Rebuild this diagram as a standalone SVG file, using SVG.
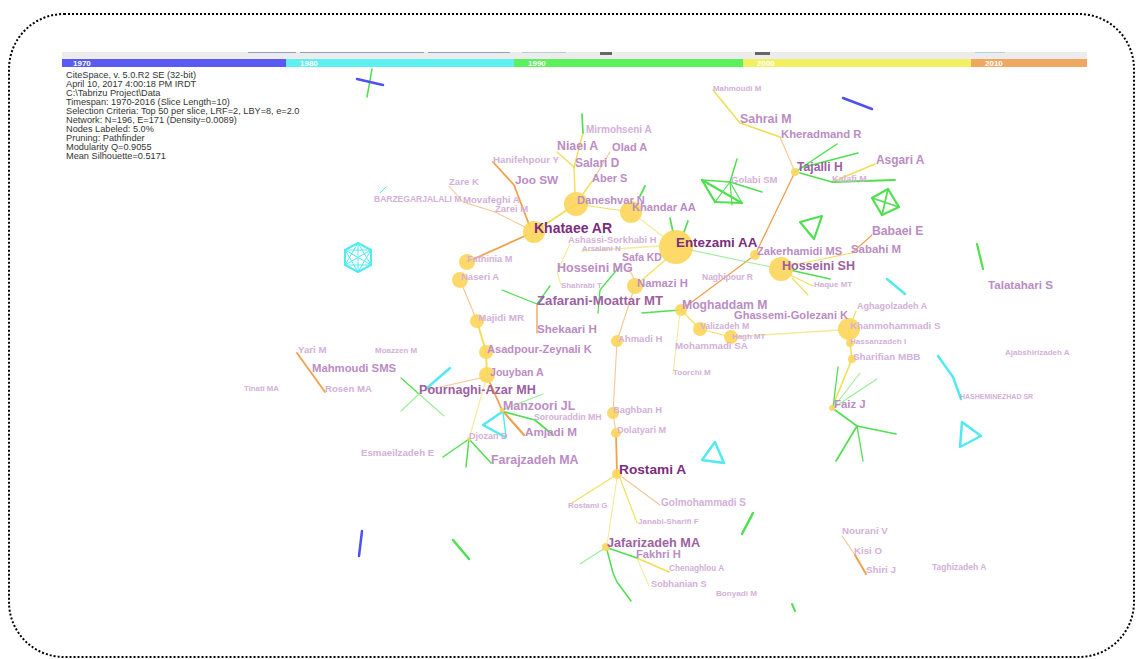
<svg xmlns="http://www.w3.org/2000/svg" width="1136" height="659" viewBox="0 0 1136 659">
<style>
.t{font-family:"Liberation Sans",Arial,sans-serif;font-weight:bold}
.h{font-family:"Liberation Sans",Arial,sans-serif;font-size:9.2px;fill:#333}
.yr{font-family:"Liberation Sans",Arial,sans-serif;font-size:8px;font-weight:bold;fill:#fff}
.c1{fill:#7b2d7e}.c2{fill:#9d5fa3}.c3{fill:#bb8cc4}.c4{fill:#d3b0d8}
.n{fill:#fdd55a;fill-opacity:0.9}
#edges line,#edges polyline,#edges polygon{fill:none;stroke-linecap:round;stroke-linejoin:round}
.o{stroke:#f2a04c;stroke-width:1.8}
.ol{stroke:#f7c596;stroke-width:1.1}
.y{stroke:#f0df55;stroke-width:1.4}
.yl{stroke:#f4ea9a;stroke-width:1.1}
.g{stroke:#50df50;stroke-width:1.7}
.gl{stroke:#98ee98;stroke-width:1.1}
.c{stroke:#52e9f0;stroke-width:2.5}
.ct{stroke:#52e9f0;stroke-width:1}
.b{stroke:#5050ee;stroke-width:2.5}
</style>
<rect x="9" y="14" width="1125" height="643" rx="55" ry="55" fill="#fff" stroke="#000" stroke-width="2" stroke-dasharray="2 2"/>
<g id="timeline">
<rect x="62" y="52" width="1025" height="7" fill="#ececec"/>
<rect x="62" y="59" width="224" height="8" fill="#5a5af0"/>
<rect x="286" y="59" width="228" height="8" fill="#5ef0f0"/>
<rect x="514" y="59" width="229" height="8" fill="#5cf05c"/>
<rect x="743" y="59" width="228" height="8" fill="#f0f060"/>
<rect x="971" y="59" width="116" height="8" fill="#f0a860"/>
<line x1="248" y1="52.5" x2="296" y2="52.5" stroke="#8fa4bb" stroke-width="1"/>
<line x1="300" y1="52.5" x2="424" y2="52.5" stroke="#8fa4bb" stroke-width="1"/>
<line x1="428" y1="52.5" x2="510" y2="52.5" stroke="#8fa4bb" stroke-width="1"/>
<line x1="522" y1="52.5" x2="566" y2="52.5" stroke="#b5cde0" stroke-width="1"/>
<rect x="600" y="52" width="12" height="3" fill="#666"/>
<rect x="755" y="52" width="15" height="3" fill="#666"/>
<line x1="975" y1="52.5" x2="1005" y2="52.5" stroke="#b5cde0" stroke-width="1"/>
<text class="yr" x="73" y="66">1970</text>
<text class="yr" x="300" y="66">1980</text>
<text class="yr" x="528" y="66">1990</text>
<text class="yr" x="757" y="66">2000</text>
<text class="yr" x="985" y="66">2010</text>
</g>
<g id="info">
<text class="h" x="66" y="77.5">CiteSpace, v. 5.0.R2 SE (32-bit)</text>
<text class="h" x="66" y="86.5">April 10, 2017 4:00:18 PM IRDT</text>
<text class="h" x="66" y="95.5">C:\Tabrizu Project\Data</text>
<text class="h" x="66" y="104.5">Timespan: 1970-2016 (Slice Length=10)</text>
<text class="h" x="66" y="113.5">Selection Criteria: Top 50 per slice, LRF=2, LBY=8, e=2.0</text>
<text class="h" x="66" y="122.5">Network: N=196, E=171 (Density=0.0089)</text>
<text class="h" x="66" y="131.5">Nodes Labeled: 5.0%</text>
<text class="h" x="66" y="140.5">Pruning: Pathfinder</text>
<text class="h" x="66" y="149.5">Modularity Q=0.9055</text>
<text class="h" x="66" y="158.5">Mean Silhouette=0.5171</text>
</g>
<g id="edges">
<polyline class="o" points="530,227 514,185 493,162"/>
<polyline class="ol" points="449,186 463,202 495,212 527,228"/>
<line class="o" x1="527" y1="235" x2="467" y2="262"/>
<line class="ol" x1="593" y1="180" x2="610" y2="152"/>
<line class="ol" x1="628" y1="268" x2="635" y2="280"/>
<line class="ol" x1="633" y1="292" x2="617" y2="341"/>
<polyline class="ol" points="617,341 613,413 616,433"/>
<line class="o" x1="616" y1="433" x2="617" y2="474"/>
<polyline class="o" style="stroke-width:1.3" points="681,310 700,296 755,255 795,172"/>
<line class="ol" x1="795" y1="172" x2="780" y2="137"/>
<line class="o" style="stroke-width:1.1" x1="852" y1="253" x2="872" y2="235"/>
<line class="o" style="stroke-width:1.3" x1="537" y1="304" x2="537" y2="333"/>
<line class="ol" x1="460" y1="280" x2="477" y2="321"/>
<line class="ol" x1="485" y1="377" x2="427" y2="390"/>
<line class="o" x1="490" y1="383" x2="502" y2="410"/>
<line class="o" style="stroke-width:2.2" x1="502" y1="410" x2="524" y2="435"/>
<line class="o" x1="297" y1="353" x2="325" y2="392"/>
<line class="ol" x1="622" y1="477" x2="660" y2="505"/>
<line class="ol" x1="842" y1="536" x2="855" y2="555"/>
<line class="o" style="stroke-width:2" x1="855" y1="555" x2="866" y2="574"/>

<line class="y" style="stroke-width:1.8" x1="534" y1="232" x2="576" y2="204"/>
<line class="y" x1="575" y1="192" x2="574" y2="167"/>
<line class="y" x1="574" y1="167" x2="557" y2="152"/>
<line class="y" x1="574" y1="167" x2="583" y2="133"/>
<line class="y" x1="583" y1="194" x2="593" y2="180"/>
<line class="y" style="stroke-width:1.2" x1="576" y1="204" x2="631" y2="212"/>
<line class="yl" x1="631" y1="212" x2="665" y2="238"/>
<line class="yl" style="stroke-width:1.3" x1="660" y1="246" x2="582" y2="251"/>
<polyline class="yl" points="570,244 557,272 561,285"/>
<line class="y" style="stroke-width:1.1" x1="670" y1="256" x2="635" y2="286"/>
<polyline class="y" style="stroke-width:1.6" points="780,137 740,123 713,90"/>
<line class="y" style="stroke-width:1.6" x1="832" y1="182" x2="875" y2="164"/>
<line class="y" style="stroke-width:1.1" x1="793" y1="265" x2="852" y2="253"/>
<line class="y" style="stroke-width:1.1" x1="790" y1="275" x2="813" y2="286"/>
<line class="y" style="stroke-width:1.1" x1="792" y1="278" x2="808" y2="295"/>
<line class="y" style="stroke-width:1.1" x1="681" y1="310" x2="700" y2="329"/>
<line class="yl" x1="680" y1="312" x2="673" y2="374"/>
<line class="y" style="stroke-width:1.1" x1="700" y1="329" x2="731" y2="337"/>
<line class="yl" style="stroke-width:1.3" x1="731" y1="337" x2="840" y2="330"/>
<line class="y" style="stroke-width:1.1" x1="849" y1="329" x2="856" y2="311"/>
<polyline class="y" style="stroke-width:1.6" points="849,329 850,343 852,359 832,408"/>
<polyline class="y" style="stroke-width:1.9" points="477,321 486,352 487,375"/>
<line class="yl" x1="485" y1="383" x2="469" y2="439"/>
<line class="y" style="stroke-width:1.1" x1="613" y1="477" x2="572" y2="503"/>
<line class="y" style="stroke-width:1.1" x1="620" y1="478" x2="637" y2="523"/>
<line class="yl" x1="617" y1="478" x2="607" y2="545"/>
<line class="y" style="stroke-width:1.6" x1="637" y1="558" x2="669" y2="572"/>
<line class="yl" x1="637" y1="558" x2="649" y2="586"/>

<line class="g" x1="583" y1="133" x2="582" y2="114"/>
<line class="g" x1="640" y1="196" x2="645" y2="186"/>
<line class="g" x1="670" y1="218" x2="673" y2="232"/>
<line class="g" x1="688" y1="221" x2="684" y2="232"/>
<line class="gl" x1="676" y1="247" x2="781" y2="269"/>
<line class="g" x1="790" y1="270" x2="830" y2="279"/>
<polyline class="g" style="stroke-width:1.3" points="620,266 600,290 598,313"/>
<polyline class="g" style="stroke-width:1.3" points="502,290 537,304 550,286"/>
<line class="g" style="stroke-width:1.5" x1="642" y1="313" x2="680" y2="310"/>
<line class="g" style="stroke-width:1.5" x1="795" y1="172" x2="837" y2="144"/>
<line class="g" style="stroke-width:1.5" x1="800" y1="168" x2="858" y2="153"/>
<polyline class="g" style="stroke-width:1.8" points="800,173 832,182 895,180"/>
<line class="g" style="stroke-width:2.2" x1="702" y1="180" x2="742" y2="203"/>
<line class="g" style="stroke-width:1.3" x1="702" y1="180" x2="730" y2="182"/>
<line class="g" style="stroke-width:2.2" x1="702" y1="180" x2="715" y2="202"/>
<line class="g" style="stroke-width:2.2" x1="715" y1="202" x2="742" y2="203"/>
<line class="g" style="stroke-width:1.2" x1="730" y1="182" x2="742" y2="203"/>
<line class="g" style="stroke-width:1.2" x1="730" y1="182" x2="715" y2="202"/>
<line class="g" style="stroke-width:1.5" x1="737" y1="159" x2="730" y2="182"/>
<line class="g" style="stroke-width:1.2" x1="730" y1="182" x2="732" y2="205"/>
<line class="g" style="stroke-width:1.5" x1="730" y1="182" x2="762" y2="192"/>
<polygon class="g" style="stroke-width:2.2" points="800,222 822,216 814,239"/>
<polygon class="g" style="stroke-width:2.2" points="872,198 888,189 899,207 882,215"/>
<line class="g" style="stroke-width:1.8" x1="872" y1="198" x2="899" y2="207"/>
<line class="g" style="stroke-width:1.8" x1="888" y1="189" x2="882" y2="215"/>
<line class="g" style="stroke-width:1.5" x1="372" y1="69" x2="367" y2="97"/>
<line class="g" style="stroke-width:2.2" x1="977" y1="244" x2="983" y2="269"/>
<line class="g" style="stroke-width:1.3" x1="833" y1="408" x2="838" y2="367"/>
<line class="gl" x1="833" y1="408" x2="860" y2="373"/>
<line class="gl" x1="833" y1="408" x2="877" y2="379"/>
<line class="g" x1="835" y1="410" x2="857" y2="426"/>
<line class="g" x1="857" y1="426" x2="896" y2="434"/>
<line class="g" x1="857" y1="426" x2="836" y2="461"/>
<line class="g" style="stroke-width:1.3" x1="857" y1="426" x2="863" y2="461"/>
<line class="gl" style="stroke-width:1.3" x1="502" y1="410" x2="543" y2="394"/>
<polyline class="g" points="505,412 535,420 553,435"/>
<line class="g" style="stroke-width:1.3" x1="401" y1="378" x2="419" y2="394"/>
<line class="gl" x1="419" y1="394" x2="444" y2="416"/>
<line class="gl" x1="419" y1="394" x2="401" y2="411"/>
<line class="g" style="stroke-width:1.5" x1="469" y1="439" x2="443" y2="457"/>
<line class="g" style="stroke-width:1.5" x1="469" y1="439" x2="466" y2="467"/>
<line class="g" style="stroke-width:1.5" x1="469" y1="439" x2="491" y2="463"/>
<line class="g" style="stroke-width:2.5" x1="453" y1="540" x2="469" y2="559"/>
<line class="gl" x1="605" y1="548" x2="580" y2="564"/>
<polyline class="g" style="stroke-width:1.5" points="607,550 613,573 617,582 631,601"/>
<line class="g" style="stroke-width:1.5" x1="608" y1="548" x2="637" y2="558"/>
<line class="g" style="stroke-width:2.5" x1="753" y1="513" x2="742" y2="534"/>
<line class="g" style="stroke-width:2" x1="792" y1="604" x2="795" y2="611"/>

<line class="ct" x1="380" y1="193" x2="386" y2="187"/>
<polygon class="c" style="stroke-width:2" points="358,243 371,250 371,265 358,272 345,265 345,250"/>
<polyline class="ct" points="358,243 371,265 345,265 358,243"/>
<polyline class="ct" points="371,250 358,272 345,250 371,250"/>
<line class="ct" x1="358" y1="243" x2="358" y2="272"/>
<line class="ct" x1="371" y1="250" x2="345" y2="265"/>
<line class="ct" x1="371" y1="265" x2="345" y2="250"/>
<line class="c" x1="427" y1="388" x2="450" y2="368"/>
<polyline class="c" points="502,412 483,425 505,437"/>
<line class="ct" style="stroke-width:1.4" x1="503" y1="412" x2="506" y2="437"/>
<line class="c" x1="887" y1="279" x2="905" y2="294"/>
<polyline class="c" points="938,356 953,377 961,399"/>
<polygon class="c" points="962,422 981,436 960,447"/>
<polygon class="c" points="715,442 724,463 702,460"/>

<line class="b" x1="357" y1="79" x2="383" y2="85"/>
<line class="b" x1="843" y1="98" x2="872" y2="109"/>
<line class="b" x1="362" y1="531" x2="359" y2="556"/>
</g>

<g id="n-entezami"><circle class="n" cx="676" cy="247" r="17"/><text class="t c1" x="676" y="246.5" font-size="13.4">Entezami AA</text></g>
<g id="n-khandar"><circle class="n" cx="631" cy="212" r="11"/><text class="t c3" x="632" y="211.2" font-size="11.1">Khandar AA</text></g>
<g id="n-daneshvar"><circle class="n" cx="576" cy="204" r="12"/><text class="t c3" x="577" y="204" font-size="11.1">Daneshvar N</text></g>
<g id="n-hosseinish"><circle class="n" cx="781" cy="269" r="12"/><text class="t c2" x="782" y="270" font-size="12.5">Hosseini SH</text></g>
<g id="n-khanmohammadi"><circle class="n" cx="849" cy="329" r="11"/><text class="t c4" x="850" y="329" font-size="9.7">Khanmohammadi S</text></g>
<g id="n-khataee"><circle class="n" cx="534" cy="232" r="11"/><text class="t c1" x="534" y="233" font-size="14">Khataee AR</text></g>
<g id="n-namazi"><circle class="n" cx="635" cy="286" r="8"/><text class="t c3" x="637" y="286.7" font-size="11.3">Namazi H</text></g>
<g id="n-fathinia"><circle class="n" cx="467" cy="262" r="8"/><text class="t c4" x="467" y="261.5" font-size="9.2">Fathinia M</text></g>
<g id="n-naseri"><circle class="n" cx="460" cy="280" r="8"/><text class="t c4" x="461" y="280" font-size="9.5">Naseri A</text></g>
<g id="n-majidi"><circle class="n" cx="477" cy="321" r="7"/><text class="t c4" x="478" y="321" font-size="9.9">Majidi MR</text></g>
<g id="n-asadpour"><circle class="n" cx="486" cy="352" r="7"/><text class="t c3" x="487" y="353" font-size="11.1">Asadpour-Zeynali K</text></g>
<g id="n-jouyban"><circle class="n" cx="487" cy="375" r="8"/><text class="t c3" x="490" y="375.5" font-size="10.6">Jouyban A</text></g>
<g id="n-pournaghi"><text class="t c2" x="419" y="393.7" font-size="12.6">Pournaghi-Azar MH</text></g>
<g id="n-moghaddam"><circle class="n" cx="681" cy="310" r="6"/><text class="t c3" x="682" y="309.3" font-size="12.2">Moghaddam M</text></g>
<g id="n-valizadeh"><circle class="n" cx="700" cy="329" r="7"/><text class="t c4" x="700" y="329" font-size="8.7">Valizadeh M</text></g>
<g id="n-hagh"><circle class="n" cx="731" cy="337" r="7"/><text class="t c4" x="732" y="339.4" font-size="7.9">Hagh MT</text></g>
<g id="n-ahmadi"><circle class="n" cx="617" cy="341" r="6"/><text class="t c4" x="618" y="341.6" font-size="9.5">Ahmadi H</text></g>
<g id="n-baghban"><circle class="n" cx="613" cy="413" r="6"/><text class="t c4" x="613" y="413.3" font-size="9.3">Baghban H</text></g>
<g id="n-dolatyari"><circle class="n" cx="616" cy="433" r="5"/><text class="t c4" x="617" y="432.5" font-size="9.1">Dolatyari M</text></g>
<g id="n-rostami"><circle class="n" cx="617" cy="474" r="5"/><text class="t c1" x="619" y="473.8" font-size="13.7">Rostami A</text></g>
<g id="n-jafarizadeh"><circle class="n" cx="606" cy="547" r="4"/><text class="t c2" x="607" y="547.2" font-size="12.7">Jafarizadeh MA</text></g>
<g id="n-zakerhamidi"><circle class="n" cx="755" cy="255" r="5"/><text class="t c3" x="757" y="255" font-size="11.1">Zakerhamidi MS</text></g>
<g id="n-tajalli"><circle class="n" cx="795" cy="172" r="4"/><text class="t c2" x="797" y="171" font-size="12.2">Tajalli H</text></g>
<g id="n-hassanzadeh"><circle class="n" cx="850" cy="343" r="4"/><text class="t c4" x="850" y="344.2" font-size="8.1">Hassanzadeh I</text></g>
<g id="n-sharifian"><circle class="n" cx="852" cy="359" r="4"/><text class="t c4" x="853" y="359.5" font-size="9.9">Sharifian MBB</text></g>
<g id="n-faiz"><circle class="n" cx="832" cy="408" r="3"/><text class="t c3" x="834" y="408" font-size="11.4">Faiz J</text></g>
<g id="n-manzoori"><circle class="n" cx="502" cy="410" r="2.5"/><text class="t c3" x="503" y="410.3" font-size="12.4">Manzoori JL</text></g>
<g id="n-djozan"><circle class="n" cx="469" cy="439" r="2"/><text class="t c4" x="469" y="438.8" font-size="9">Djozan D</text></g>

<g id="n-mahmoudim"><text class="t c4" x="713" y="90.5" font-size="7.9">Mahmoudi M</text></g>
<g id="n-sahrai"><text class="t c3" x="740" y="122.5" font-size="12.4">Sahrai M</text></g>
<g id="n-kheradmand"><text class="t c3" x="781" y="138.3" font-size="11.3">Kheradmand R</text></g>
<g id="n-asgari"><text class="t c3" x="876" y="164" font-size="11.9">Asgari A</text></g>
<g id="n-kalafi"><text class="t c4" x="832" y="181.5" font-size="9.1">Kalafi M</text></g>
<g id="n-golabi"><text class="t c4" x="731" y="182.5" font-size="9.5">Golabi SM</text></g>
<g id="n-mirmohseni"><text class="t c4" x="586" y="133" font-size="10">Mirmohseni A</text></g>
<g id="n-niaei"><text class="t c3" x="557" y="150" font-size="12.3">Niaei A</text></g>
<g id="n-olad"><text class="t c3" x="612" y="151.3" font-size="11.1">Olad A</text></g>
<g id="n-salari"><text class="t c3" x="575" y="167" font-size="11.9">Salari D</text></g>
<g id="n-aber"><text class="t c3" x="592" y="182.3" font-size="11">Aber S</text></g>
<g id="n-hanifehpour"><text class="t c4" x="493" y="162.5" font-size="9.7">Hanifehpour Y</text></g>
<g id="n-joo"><text class="t c3" x="515" y="184" font-size="11.8">Joo SW</text></g>
<g id="n-zarek"><text class="t c4" x="449" y="185" font-size="9.6">Zare K</text></g>
<g id="n-barzegar"><text class="t c4" x="374" y="202.3" font-size="8.5">BARZEGARJALALI M</text></g>
<g id="n-movafeghi"><text class="t c4" x="463" y="202.6" font-size="9.6">Movafeghi A</text></g>
<g id="n-zarei"><text class="t c4" x="495" y="212.3" font-size="9.5">Zarei M</text></g>
<g id="n-ashassi"><text class="t c4" x="568" y="243" font-size="9.4">Ashassi-Sorkhabi H</text></g>
<g id="n-arsalani"><text class="t c4" x="582" y="251" font-size="7.8">Arsalani N</text></g>
<g id="n-safa"><text class="t c3" x="622" y="261.3" font-size="10.4">Safa KD</text></g>
<g id="n-hosseinimg"><text class="t c3" x="557" y="272" font-size="12.5">Hosseini MG</text></g>
<g id="n-shahrabi"><text class="t c4" x="561" y="287.8" font-size="7.9">Shahrabi T</text></g>
<g id="n-zafarani"><text class="t c2" x="537" y="304.6" font-size="13.2">Zafarani-Moattar MT</text></g>
<g id="n-shekaari"><text class="t c3" x="537" y="333" font-size="11.6">Shekaari H</text></g>
<g id="n-ghassemi"><text class="t c3" x="734" y="319" font-size="11.1">Ghassemi-Golezani K</text></g>
<g id="n-mohammadi"><text class="t c4" x="675" y="349" font-size="9.7">Mohammadi SA</text></g>
<g id="n-toorchi"><text class="t c4" x="673" y="375" font-size="8">Toorchi M</text></g>
<g id="n-sabahi"><text class="t c3" x="851" y="253" font-size="11.4">Sabahi M</text></g>
<g id="n-babaei"><text class="t c3" x="872" y="235" font-size="12.2">Babaei E</text></g>
<g id="n-naghipour"><text class="t c4" x="702" y="279.7" font-size="8.5">Naghipour R</text></g>
<g id="n-haque"><text class="t c4" x="814" y="287" font-size="8">Haque MT</text></g>
<g id="n-talatahari"><text class="t c3" x="988" y="289" font-size="11.6">Talatahari S</text></g>
<g id="n-aghagolzadeh"><text class="t c4" x="857" y="308.5" font-size="9">Aghagolzadeh A</text></g>
<g id="n-ajabshirizadeh"><text class="t c4" x="1005" y="354.8" font-size="8">Ajabshirizadeh A</text></g>
<g id="n-hasheminezhad"><text class="t c4" x="960" y="398.5" font-size="7">HASHEMINEZHAD SR</text></g>
<g id="n-sorouraddin"><text class="t c4" x="534" y="420.3" font-size="8.7">Sorouraddin MH</text></g>
<g id="n-amjadi"><text class="t c3" x="525" y="435.7" font-size="11.7">Amjadi M</text></g>
<g id="n-farajzadeh"><text class="t c3" x="491" y="464.3" font-size="12.4">Farajzadeh MA</text></g>
<g id="n-esmaeilzadeh"><text class="t c4" x="361" y="455.7" font-size="9.7">Esmaeilzadeh E</text></g>
<g id="n-yari"><text class="t c4" x="298" y="353.4" font-size="9.7">Yari M</text></g>
<g id="n-moazzen"><text class="t c4" x="375" y="352.8" font-size="8">Moazzen M</text></g>
<g id="n-mahmoudisms"><text class="t c3" x="312" y="372.3" font-size="11.3">Mahmoudi SMS</text></g>
<g id="n-rosen"><text class="t c4" x="325" y="391.7" font-size="9.6">Rosen MA</text></g>
<g id="n-tinati"><text class="t c4" x="244" y="391" font-size="7.8">Tinati MA</text></g>
<g id="n-golmohammadi"><text class="t c4" x="661" y="505.8" font-size="10">Golmohammadi S</text></g>
<g id="n-rostamig"><text class="t c4" x="568" y="507.8" font-size="7.9">Rostami G</text></g>
<g id="n-janabi"><text class="t c4" x="638" y="523.8" font-size="8.1">Janabi-Sharifi F</text></g>
<g id="n-fakhri"><text class="t c3" x="636" y="558.2" font-size="11.2">Fakhri H</text></g>
<g id="n-chenaghlou"><text class="t c4" x="669" y="571.2" font-size="8.2">Chenaghlou A</text></g>
<g id="n-sobhanian"><text class="t c4" x="651" y="587.2" font-size="9.2">Sobhanian S</text></g>
<g id="n-bonyadi"><text class="t c4" x="716" y="596.1" font-size="8.1">Bonyadi M</text></g>
<g id="n-nourani"><text class="t c4" x="842" y="534.4" font-size="9.7">Nourani V</text></g>
<g id="n-kisi"><text class="t c4" x="854" y="553.7" font-size="9.7">Kisi O</text></g>
<g id="n-shiri"><text class="t c4" x="866" y="572.7" font-size="9.8">Shiri J</text></g>
<g id="n-taghizadeh"><text class="t c4" x="932" y="569.7" font-size="8.5">Taghizadeh A</text></g>
</svg>
